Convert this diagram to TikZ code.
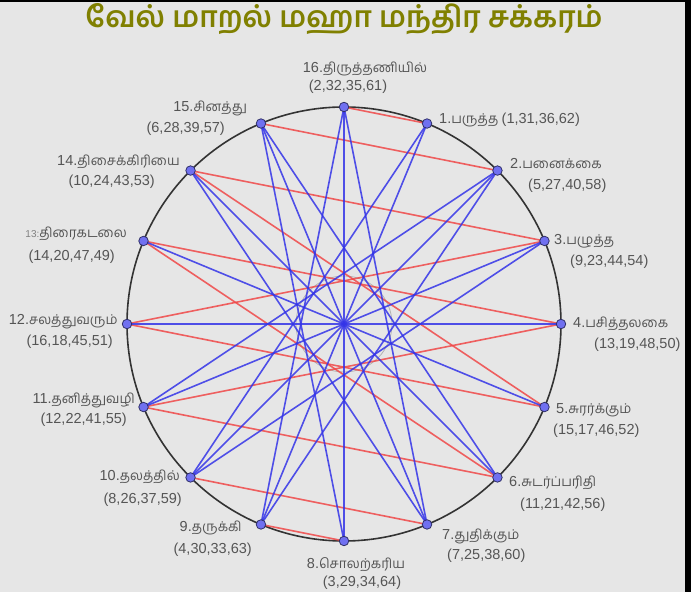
\documentclass[tikz,border=0pt]{standalone}
\usepackage{fontspec}
\usepackage{tikz}
\usetikzlibrary{positioning}
\newfontfamily\tamil[Script=Tamil]{Hind Madurai}
\newfontfamily\digits{Liberation Sans}
\newcommand\numfont{\digits\fontsize{14.5}{16}\selectfont}
\definecolor{PaperGray}{HTML}{E6E6E6}
\definecolor{TitleOlive}{HTML}{808000}
\definecolor{LabelGray}{HTML}{555555}
\definecolor{ChordRed}{HTML}{F04848}
\definecolor{ChordBlue}{HTML}{3434E8}
\definecolor{DotBlue}{HTML}{7070F0}
\definecolor{DotEdge}{HTML}{30306A}

\begin{document}
\begin{tikzpicture}[x=1pt,y=1pt,
 vert/.style={circle,fill=DotBlue,draw=DotEdge,line width=0.8pt,inner sep=0pt,minimum size=9.5pt},
 lbl/.style={text=LabelGray,font=\tamil\fontsize{13.5}{15}\selectfont,inner sep=0pt},
 numlbl/.style={text=LabelGray,font=\numfont,inner sep=0pt},
 redline/.style={draw=ChordRed,line width=1.6pt,opacity=0.85},
 blueline/.style={draw=ChordBlue,line width=1.6pt,opacity=0.85}]
\fill[PaperGray] (0,0) rectangle (691,592);
\fill[black] (685,0) rectangle (691,592);
\fill[black] (0,590) rectangle (691,592);
\useasboundingbox (0,0) rectangle (691,592);
\node[font=\tamil\bfseries\fontsize{29.5}{32}\selectfont,text=TitleOlive] (title) at (344,573) {வேல் மாறல் மஹா மந்திர சக்கரம்};
\coordinate (ctr) at (344,268);
\draw[draw=black!80,line width=1.6pt] (ctr) circle (217);
\draw[draw=gray!60,line width=0.8pt] (ctr) circle (48);
\foreach \k in {1,...,16} \coordinate (p\k) at ([shift={(ctr)}]90-22.5*\k:217);
% the chords
\foreach \a/\b in {16/1,15/2,14/3,13/4,12/5,11/6,10/7,9/8,3/12,4/11,5/14,6/13} \draw[redline] (p\a)--(p\b);
\foreach \a/\b in {16/8,15/7,14/6,13/5,12/4,11/3,10/2,9/1,16/9,16/7,15/8,15/6,14/7,10/1,10/3,9/2,11/2} \draw[blueline] (p\a)--(p\b);
\foreach \k in {1,...,16} \node[vert] (v\k) at (p\k) {};
% names and their numbers
\foreach \k/\an/\x/\y/\txt in {16/center/365/523/திருத்தணியில்,1/west/439/472/{பருத்த {\numfont(1,31,36,62)}},
 2/west/510/428/பனைக்கை,3/west/554/351/பழுத்த,4/west/573/268/பசித்தலகை,5/west/556/182/சுரர்க்கும்,
 6/west/509/109/சுடர்ப்பரிதி,7/west/442/56/துதிக்கும்,8/center/356/27/சொலற்கரிய,9/east/242/64/தருக்கி,
 10/east/180/115/தலத்தில்,11/east/135/192/தனித்துவழி,12/east/118/270/சலத்துவரும்,
 14/east/180/430/திசைக்கிரியை,15/east/247/484/சினத்து}
 \node[lbl,anchor=\an] (n\k) at (\x,\y) {{\numfont\k.}\txt};
\node[lbl,anchor=east] (n13) at (127,358) {{\digits\fontsize{10}{12}\selectfont\color{gray}13:}திரைகடலை};
\foreach \k/\an/\x/\y/\txt in {16/center/348/505/{(2,32,35,61)},2/west/528/406/{(5,27,40,58)},3/west/570/330/{(9,23,44,54)},
 4/west/594/247/{(13,19,48,50)},5/west/553/161/{(15,17,46,52)},6/west/520/87/{(11,21,42,56)},7/west/447/36/{(7,25,38,60)},
 8/center/362/9/{(3,29,34,64)},9/east/252/42/{(4,30,33,63)},10/east/182/92/{(8,26,37,59)},11/east/127/172/{(12,22,41,55)},
 12/east/113/250/{(16,18,45,51)},13/east/115/335/{(14,20,47,49)},14/east/155/410/{(10,24,43,53)},15/east/225/463/{(6,28,39,57)}}
 \node[numlbl,anchor=\an] (c\k) at (\x,\y) {\txt};
\end{tikzpicture}
\end{document}
